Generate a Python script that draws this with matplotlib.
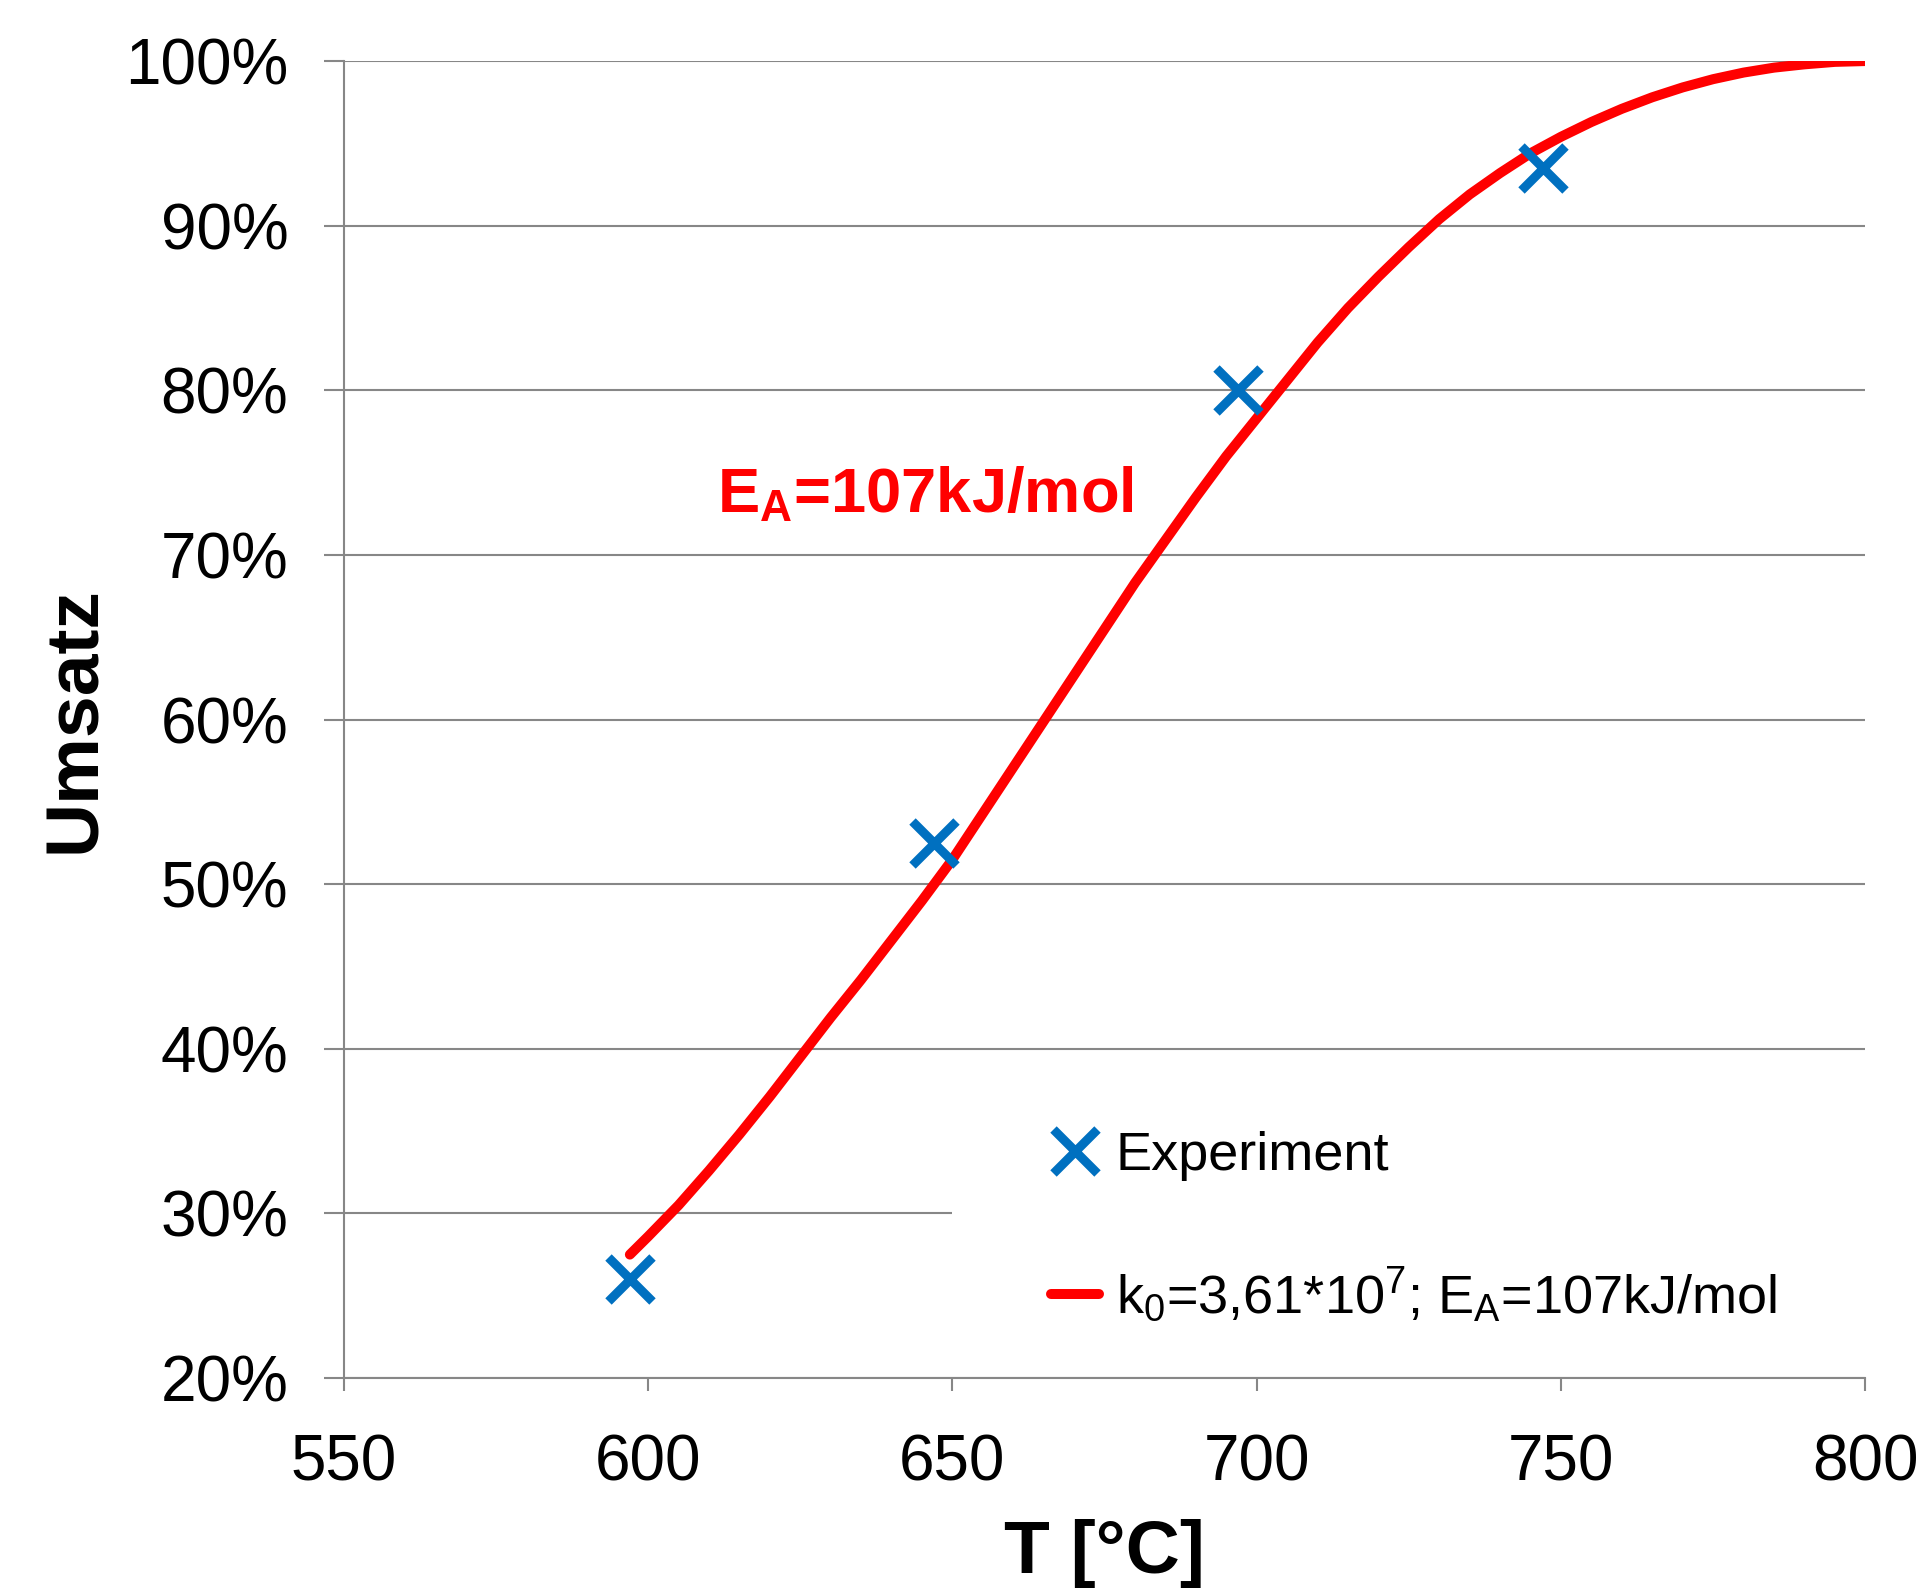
import numpy as np
import matplotlib
matplotlib.use('Agg')
import matplotlib.pyplot as plt
from matplotlib.ticker import FuncFormatter
from matplotlib.patches import Rectangle

plt.rcParams['font.family'] = ['Liberation Sans', 'DejaVu Sans']
plt.rcParams['mathtext.fontset'] = 'custom'
plt.rcParams['mathtext.rm'] = 'Liberation Sans'
plt.rcParams['mathtext.bf'] = 'Liberation Sans:bold'
plt.rcParams['mathtext.default'] = 'regular'

# Messwerte
t_exp = [597, 647, 697, 747]
x_exp = [0.26, 0.525, 0.80, 0.935]

# Modellkurve
t_mod = [597, 600, 605, 610, 615, 620, 625, 630, 635, 640, 645, 650, 655,
         660, 665, 670, 675, 680, 685, 690, 695, 700, 705, 710, 715, 720,
         725, 730, 735, 740, 745, 750, 755, 760, 765, 770, 775, 780, 785,
         790, 795, 800]
x_mod = [0.275, 0.286, 0.305, 0.326, 0.348, 0.371, 0.395, 0.419, 0.442,
         0.466, 0.490, 0.515, 0.543, 0.571, 0.599, 0.627, 0.655, 0.683,
         0.709, 0.735, 0.760, 0.783, 0.806, 0.829, 0.850, 0.869, 0.887,
         0.904, 0.919, 0.932, 0.944, 0.954, 0.963, 0.971, 0.978, 0.984,
         0.989, 0.993, 0.996, 0.998, 0.9995, 1.0]

grey = '#878787'
blue = '#0070C0'
red = '#FF0000'

fig = plt.figure(figsize=(19.21, 15.90), dpi=100)
ax = fig.add_axes([0.179, 0.1333, 0.792, 0.8283])
ax.set_axisbelow(True)

ax.plot(t_mod, x_mod, color=red, lw=7.2, solid_capstyle='round',
        label=r'k$_0$=3,61*10$^7$; E$_A$=107kJ/mol', zorder=3)
ax.plot(t_exp, x_exp, ls='none', marker='x', ms=32, mew=6.5, color=blue,
        label='Experiment', zorder=4)

ax.set_xlim(550, 800)
ax.set_ylim(0.2, 1.0)
ax.set_xticks(np.arange(550, 801, 50))
ax.set_yticks(np.arange(0.2, 1.01, 0.1))
ax.yaxis.set_major_formatter(FuncFormatter(lambda v, p: '%d%%' % round(v * 100)))

ax.grid(axis='y', color=grey, lw=1.5)
for s in ['top', 'right']:
    ax.spines[s].set_visible(False)
for s in ['left', 'bottom']:
    ax.spines[s].set_color(grey)
    ax.spines[s].set_linewidth(1.5)
ax.tick_params(axis='y', length=14.4, width=1.5, color=grey, labelsize=46, pad=25.5)
ax.tick_params(axis='x', length=9, width=1.5, color=grey, labelsize=46, pad=31)

ax.set_xlabel('T [°C]', fontsize=54, fontweight='bold', labelpad=18.5)
ax.set_ylabel('Umsatz', fontsize=54, fontweight='bold', labelpad=11)

ax.text(611.3, 0.726, r'E$_A$=107kJ/mol', color=red, fontsize=45.5,
        fontweight='bold')

# weisser Legendenhintergrund
ax.add_patch(Rectangle((0.4, 0.005), 0.6, 0.235, transform=ax.transAxes,
                       facecolor='white', edgecolor='none', zorder=1))

h, l = ax.get_legend_handles_labels()
leg = ax.legend(h[::-1], l[::-1], loc='upper left', bbox_to_anchor=(0.4646, 0.1875),
                fontsize=39, frameon=False, borderpad=0, handlelength=0.9,
                handletextpad=0.3, labelspacing=1.555, borderaxespad=0)
leg.set_zorder(5)

fig.savefig('out.png', dpi=100)
